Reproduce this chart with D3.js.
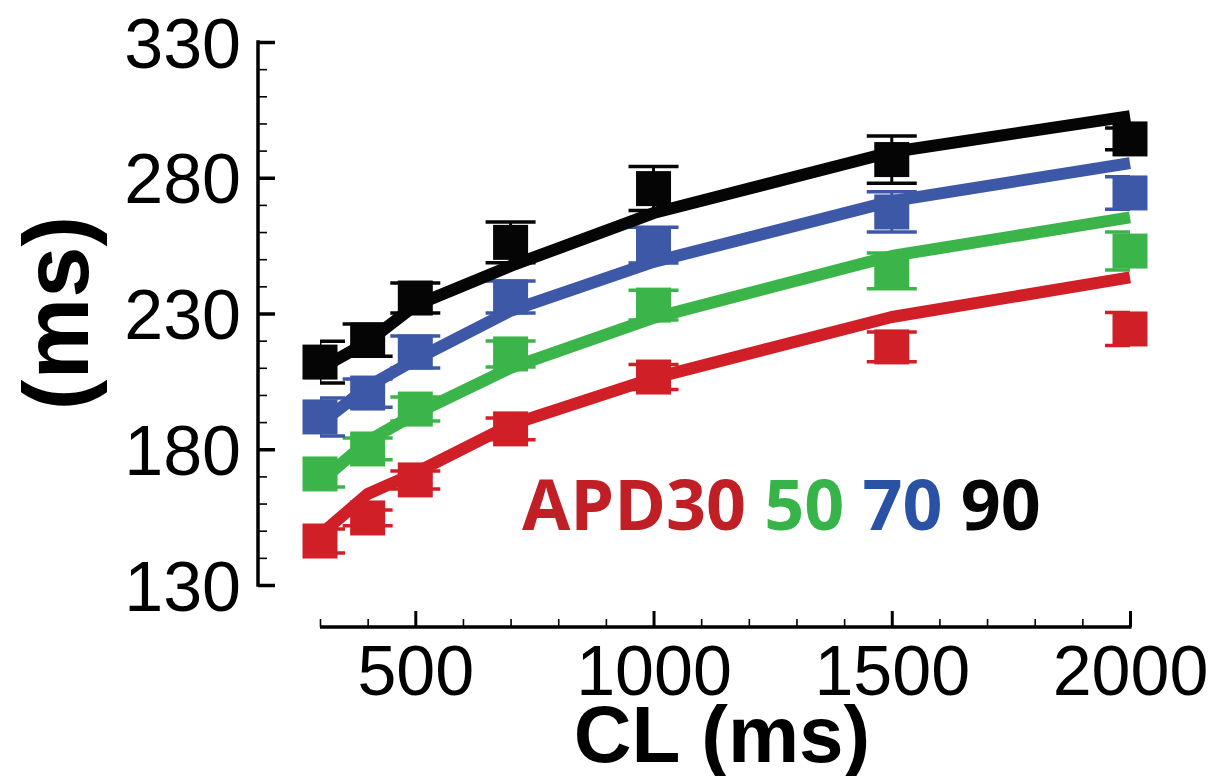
<!DOCTYPE html>
<html>
<head>
<meta charset="utf-8">
<script src="https://d3js.org/d3.v7.min.js"></script>
<style>
  body { margin: 0; background: #fff; }
  svg { display: block; }
</style>
</head>
<body>
<svg id="chart" width="1214" height="776"></svg>
<script>
// cycle length (ms) at which APD was measured
const cl = [300, 400, 500, 700, 1000, 1500, 2000];

// measured APD (squares) and error bar half-lengths
const apd30 = [146.2, 154.7, 168.7, 187.5, 206.6, 217.7, 224.3];
const apd30Err = [4.4, 2.9, 3.3, 4.0, 4.6, 5.5, 6.1];
const apd50 = [170.9, 180.1, 194.8, 215.1, 233.1, 245.7, 253.0];
const apd50Err = [4.8, 4.0, 4.4, 4.8, 5.5, 6.6, 7.0];
const apd70 = [191.9, 200.7, 215.8, 236.1, 255.2, 267.4, 274.4];
const apd70Err = [7.0, 5.2, 5.9, 5.9, 6.6, 7.4, 6.0];
const apd90 = [212.1, 220.2, 235.7, 256.2, 276.0, 286.7, 294.3];
const apd90Err = [7.7, 5.9, 5.5, 7.5, 8.1, 8.7, 4.0];

// model curves (thick lines)
const model30 = [148.4, 163.5, 171.3, 189.0, 206.2, 228.7, 243.3];
const model50 = [168.0, 183.0, 193.0, 210.0, 228.4, 251.2, 265.4];
const model70 = [189.3, 203.0, 213.0, 231.0, 249.0, 271.4, 285.4];
const model90 = [209.6, 219.5, 233.0, 247.5, 267.0, 289.5, 302.7];

const yMajor = [130, 180, 230, 280, 330];
const xMajor = [500, 1000, 1500, 2000];

const colors = ["#d01f26", "#3bb54a", "#3d58a6", "#050505"];
const legendColors = ["#c01f26", "#36b44a", "#2a52a4", "#050505"];
const legendText = ["APD30", " 50", " 70", " 90"];

const series = [
    {pts: apd30, err: apd30Err, model: model30},
    {pts: apd50, err: apd50Err, model: model50},
    {pts: apd70, err: apd70Err, model: model70},
    {pts: apd90, err: apd90Err, model: model90}
];

const svg = d3.select("#chart");

const x = d3.scaleLinear().domain([300, 2000]).range([320, 1130]);
const y = d3.scaleLinear().domain([130, 330]).range([585, 42]);

const axisY = 627;
const axisX = 258;
const tickFont = "'Liberation Sans', Arial, sans-serif";

// y axis: inward ticks
svg.append("g")
    .attr("transform", "translate(" + axisX + ",0)")
    .call(d3.axisRight(y).tickValues(d3.range(130, 331, 10)).tickSize(9).tickFormat(""))
    .call(g => g.select(".domain").remove())
    .call(g => g.selectAll("line").attr("stroke", "#000").attr("stroke-width", 1.6));
svg.append("g")
    .attr("transform", "translate(" + axisX + ",0)")
    .call(d3.axisRight(y).tickValues(yMajor).tickSize(17).tickFormat(""))
    .call(g => g.select(".domain").remove())
    .call(g => g.selectAll("line").attr("stroke", "#000").attr("stroke-width", 3.5));
svg.append("line")
    .attr("x1", axisX).attr("x2", axisX)
    .attr("y1", y(330) - 1.7).attr("y2", y(130) + 1.7)
    .attr("stroke", "#000").attr("stroke-width", 3.5);
svg.append("g")
    .attr("transform", "translate(241,0)")
    .call(d3.axisLeft(y).tickValues(yMajor).tickSize(0).tickPadding(0).tickFormat(d3.format("d")))
    .call(g => g.select(".domain").remove())
    .call(g => g.selectAll("text")
        .attr("font-family", tickFont)
        .attr("font-size", 70)
        .attr("fill", "#000")
        .attr("dy", "0.36em"));

// x axis: inward ticks
svg.append("g")
    .attr("transform", "translate(0," + axisY + ")")
    .call(d3.axisTop(x).tickValues(d3.range(300, 2001, 100)).tickSize(8).tickFormat(""))
    .call(g => g.select(".domain").remove())
    .call(g => g.selectAll("line").attr("stroke", "#000").attr("stroke-width", 1.6));
svg.append("g")
    .attr("transform", "translate(0," + axisY + ")")
    .call(d3.axisTop(x).tickValues(xMajor).tickSize(16).tickFormat(""))
    .call(g => g.select(".domain").remove())
    .call(g => g.selectAll("line").attr("stroke", "#000").attr("stroke-width", 3));
svg.append("line")
    .attr("x1", x(300)).attr("x2", x(2000) + 1.5)
    .attr("y1", axisY).attr("y2", axisY)
    .attr("stroke", "#000").attr("stroke-width", 3.5);
svg.append("g")
    .attr("transform", "translate(0,645)")
    .call(d3.axisBottom(x).tickValues(xMajor).tickSize(0).tickPadding(0).tickFormat(d3.format("d")))
    .call(g => g.select(".domain").remove())
    .call(g => g.selectAll("text")
        .attr("font-family", tickFont)
        .attr("font-size", 70)
        .attr("fill", "#000")
        .attr("dy", "0.72em"));

// clip for error bars (they are cut at the plot edges)
svg.append("clipPath").attr("id", "plotClip")
    .append("rect")
    .attr("x", x(300)).attr("y", 0)
    .attr("width", x(2000) - x(300)).attr("height", 776);

const line = d3.line()
    .x((d, i) => x(cl[i]))
    .y(d => y(d));

const sq = 35;
const capW = 50;

series.forEach(function (s, k) {
    const g = svg.append("g");
    const eb = g.append("g").attr("clip-path", "url(#plotClip)");
    s.pts.forEach(function (v, i) {
        const cx = x(cl[i]);
        const top = y(v + s.err[i]);
        const bot = y(v - s.err[i]);
        eb.append("line")
            .attr("x1", cx).attr("x2", cx).attr("y1", top).attr("y2", bot)
            .attr("stroke", colors[k]).attr("stroke-width", 3);
        [top, bot].forEach(function (yy) {
            eb.append("line")
                .attr("x1", cx - capW / 2).attr("x2", cx + capW / 2)
                .attr("y1", yy).attr("y2", yy)
                .attr("stroke", colors[k]).attr("stroke-width", 3.5);
        });
    });
    g.selectAll("rect")
        .data(s.pts)
        .enter().append("rect")
        .attr("x", (d, i) => x(cl[i]) - sq / 2)
        .attr("y", d => y(d) - sq / 2)
        .attr("width", sq)
        .attr("height", sq)
        .attr("fill", colors[k]);
    g.append("path")
        .attr("d", line(s.model))
        .attr("fill", "none")
        .attr("stroke", colors[k])
        .attr("stroke-width", 12)
        .attr("stroke-linejoin", "round");
});

// legend
const leg = svg.append("text")
    .attr("x", 522).attr("y", 530)
    .attr("font-family", "'Open Sans', sans-serif")
    .attr("font-weight", "bold")
    .attr("font-size", 70);
legendText.forEach(function (t, i) {
    leg.append("tspan").attr("fill", legendColors[i]).attr("xml:space", "preserve").text(t);
});

// axis titles
svg.append("text")
    .attr("x", 722).attr("y", 762)
    .attr("text-anchor", "middle")
    .attr("font-family", tickFont)
    .attr("font-weight", "bold")
    .attr("font-size", 80)
    .text("CL (ms)");

svg.append("text")
    .attr("transform", "translate(88,313) rotate(-90)")
    .attr("text-anchor", "middle")
    .attr("font-family", tickFont)
    .attr("font-weight", "bold")
    .attr("font-size", 92)
    .text("(ms)");
</script>
</body>
</html>
